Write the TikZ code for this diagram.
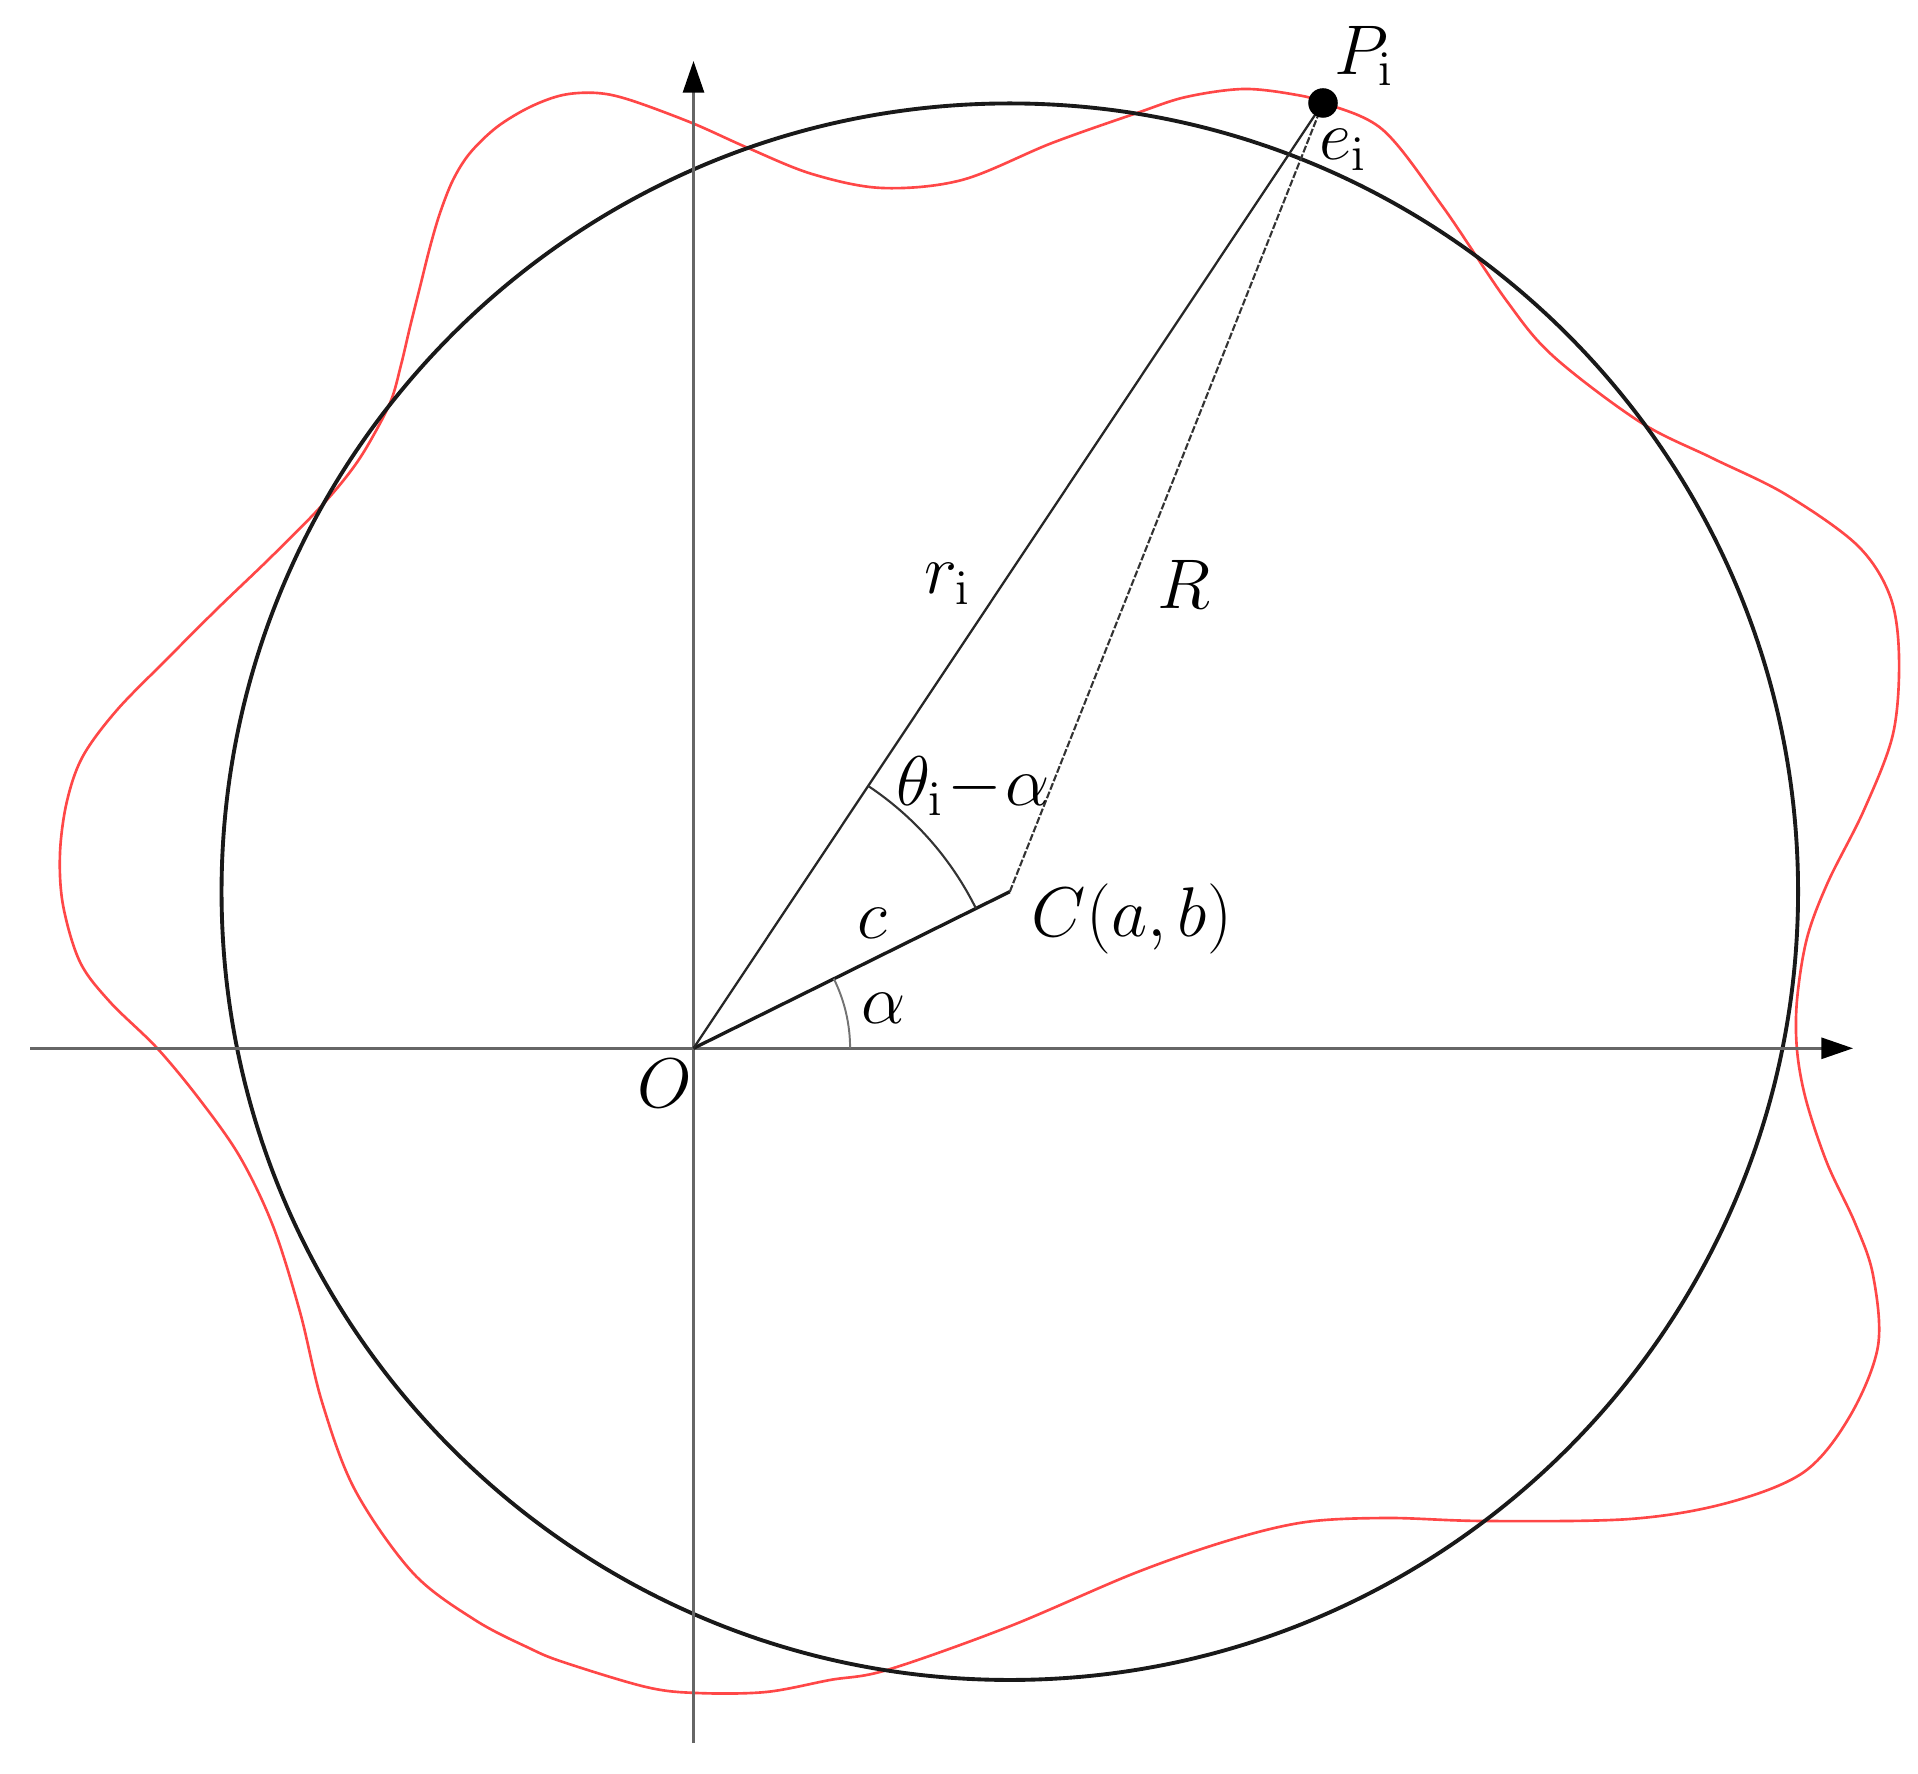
\RequirePackage{fix-cm}
\documentclass[tikz,border=0pt]{standalone}
\usetikzlibrary{arrows.meta}
\begin{document}
\begin{tikzpicture}[x=0.01cm,y=-0.01cm,
  axis/.style={draw=black!60,line width=0.7pt},
  axtip/.style={-{Triangle[length=9pt,width=6pt,color=black]}},
  redcurve/.style={draw=red!72,line width=0.75pt},
  mainline/.style={draw=black!85,line width=0.65pt},
  rline/.style={draw=black!80,line width=0.6pt,dash pattern=on 2pt off 0.6pt},
  lab/.style={font=\fontsize{20}{24}\selectfont,inner sep=0pt}]
\useasboundingbox (0,0) rectangle (1918,1774);
\coordinate (O) at (693.5,1048.3);
\coordinate (C) at (1009.8,891.7);
\coordinate (P) at (1323,103);
\coordinate (xs) at (30,1048.3);
\coordinate (xe) at (1853,1048.3);
\coordinate (ys) at (693.5,1743);
\coordinate (ye) at (693.5,61);
% red measured profile
\draw[redcurve] plot[smooth cycle,tension=0.55] coordinates {
(597,93) (630,100) (692,123) (748,148) (812,174) (882,188) (962,180)
(1052,143) (1137,113) (1186,97) (1244,89) (1297,95) (1324,103) (1383,130)
(1443,207) (1506,300) (1553,356) (1640,422) (1712,458) (1785,494)
(1857,545) (1890,596) (1899,657) (1893,734) (1864,810) (1828,882)
(1807,938) (1797,1000) (1797,1050) (1806,1100) (1827,1163) (1855,1223)
(1873,1275) (1878,1346) (1850,1416) (1804,1472) (1727,1503) (1630,1519)
(1484,1521) (1388,1518) (1306,1522) (1230,1540) (1135,1573) (1008,1627)
(887,1670) (830,1680) (766,1692) (697,1693) (646,1687) (563,1662)
(529,1648) (475,1620) (413,1573) (355,1490) (322,1402) (300,1312)
(273,1226) (240,1157) (200,1100) (157,1048) (110,1002) (80,962)
(63,905) (60,853) (67,801) (83,756) (117,710) (167,659) (217,609)
(267,561) (313,515) (343,481) (365,450) (390,403) (401,365) (410,327)
(420,287) (430,247) (440,213) (453,180) (470,153) (497,127) (530,107)
(563,95)};
% fitted circle
\draw[black!90,line width=1.1pt] (C) circle[radius=7.878cm];
% axes
\draw[axis,axtip] (xs) -- (xe);
\draw[axis,axtip] (ys) -- (ye);
% segments
\draw[black!90,line width=0.95pt] (O) -- (C);
\draw[mainline] (O) -- (P);
\draw[rline] (C) -- (P);
% angle arcs
\draw[black!55,line width=0.55pt] (O) ++(0:1.565cm) arc[start angle=0,end angle=26.34,radius=1.565cm];
\draw[black!80,line width=0.6pt] (O) ++(26.34:3.15cm) arc[start angle=26.34,end angle=56.34,radius=3.15cm];
% point
\fill[black] (P) circle[radius=4.2pt];
% labels
\node[lab] (lP) at (1364,56) {$P_{\mathrm{i}}$};
\node[lab] (le) at (1343,150) {$e_{\mathrm{i}}$};
\node[lab] (lr) at (948,584) {$r_{\mathrm{i}}$};
\node[lab] (lR) at (1184,584) {$R$};
\node[lab] (lt) at (973,786) {$\theta_{\mathrm{i}}\!-\!\alpha$};
\node[lab] (lc) at (872,923) {$c$};
\node[lab] (lC) at (1132,919) {$C(a,b)$};
\node[lab] (la) at (884,1008) {$\alpha$};
\node[lab] (lO) at (665,1083) {$O$};
\end{tikzpicture}
\end{document}
